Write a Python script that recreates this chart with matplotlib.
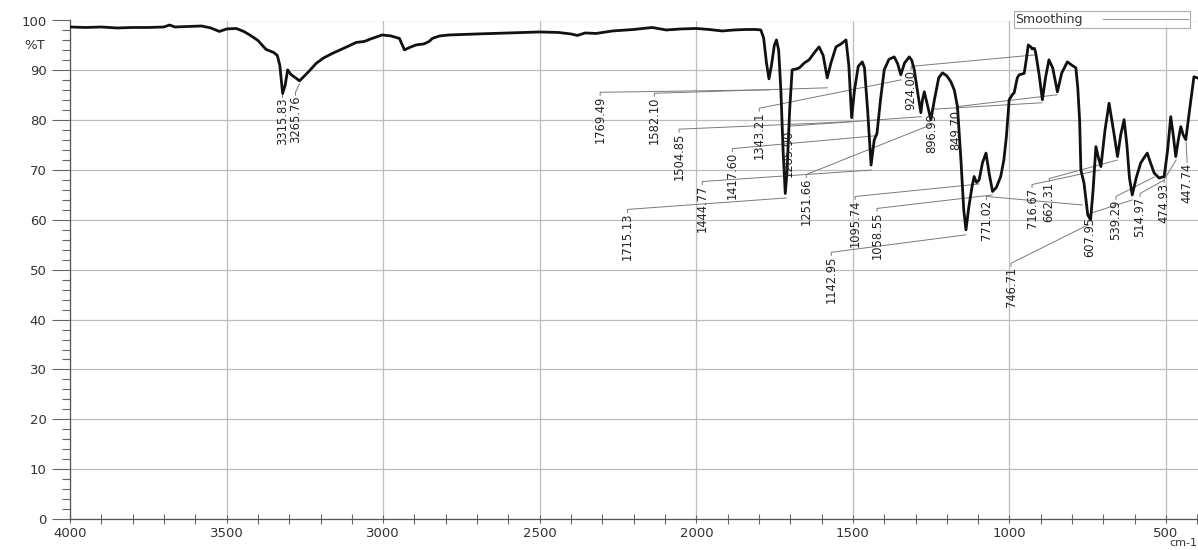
import matplotlib
matplotlib.use("Agg")
import matplotlib.pyplot as plt
from matplotlib.lines import Line2D
from matplotlib.ticker import MultipleLocator, FixedLocator

# ---------------- data ----------------
wavenumber = [4000, 3950, 3900, 3850, 3800, 3750, 3700, 3682, 3665, 3620, 3580, 3550, 3523, 3500,
              3469, 3445, 3426, 3400, 3374, 3350, 3338, 3330, 3321, 3313, 3305, 3295, 3267, 3240,
              3214, 3190, 3162, 3120, 3086, 3060, 3040, 3003, 2975, 2948, 2932, 2915, 2895, 2870,
              2853, 2843, 2820, 2789, 2700, 2600, 2500, 2440, 2400, 2380, 2355, 2320, 2268, 2200,
              2141, 2096, 2050, 2000, 1960, 1917, 1880, 1841, 1810, 1794, 1785, 1776, 1768, 1760,
              1751, 1744, 1737, 1730, 1723, 1716, 1710, 1702, 1694, 1680, 1671, 1655, 1640, 1620,
              1608, 1595, 1582, 1570, 1554, 1538, 1522, 1513, 1504, 1495, 1483, 1470, 1463, 1453,
              1442, 1432, 1423, 1412, 1400, 1385, 1368, 1357, 1347, 1335, 1320, 1312, 1304, 1293,
              1283, 1278, 1272, 1262, 1251, 1240, 1226, 1214, 1200, 1187, 1176, 1166, 1155, 1146,
              1139, 1130, 1120, 1113, 1105, 1097, 1086, 1075, 1064, 1054, 1042, 1028, 1018, 1010,
              1001, 990, 985, 975, 969, 953, 945, 940, 930, 928, 920, 916, 905, 895, 885, 874, 862,
              847, 833, 815, 800, 788, 782, 776, 772, 762, 750, 741, 733, 724, 716, 708, 695, 682,
              668, 655, 645, 634, 625, 617, 608, 595, 581, 570, 560, 550, 538, 522, 506, 495, 485,
              477, 469, 461, 453, 445, 437, 425, 411, 400]
transmittance = [98.7, 98.6, 98.7, 98.5, 98.6, 98.6, 98.7, 99.1, 98.7, 98.8, 98.9, 98.5, 97.8, 98.3,
                 98.4, 97.8, 97.1, 96.0, 94.2, 93.6, 93.0, 91.0, 85.4, 87.0, 90.1, 89.2, 87.9, 89.6,
                 91.4, 92.5, 93.4, 94.6, 95.6, 95.8, 96.3, 97.1, 96.9, 96.4, 94.1, 94.6, 95.1, 95.3,
                 95.8, 96.4, 96.9, 97.1, 97.3, 97.5, 97.7, 97.6, 97.3, 97.0, 97.5, 97.4, 97.9, 98.2,
                 98.6, 98.1, 98.3, 98.4, 98.2, 97.9, 98.1, 98.2, 98.2, 98.1, 96.5, 91.5, 88.3, 91.0,
                 95.0, 96.1, 94.0, 86.0, 74.0, 65.3, 70.0, 82.0, 90.1, 90.3, 90.5, 91.5, 92.1, 93.8,
                 94.7, 93.0, 88.5, 91.5, 94.7, 95.3, 96.1, 91.0, 80.5, 86.0, 90.8, 91.7, 90.5, 82.0,
                 71.0, 76.0, 77.4, 84.0, 90.1, 92.2, 92.7, 91.3, 89.1, 91.5, 92.7, 92.0, 90.1, 85.5,
                 81.5, 84.0, 85.7, 83.0, 80.1, 84.0, 88.5, 89.5, 88.9, 87.7, 86.0, 82.7, 72.0, 62.0,
                 58.0, 62.5, 66.5, 68.7, 67.5, 68.0, 71.5, 73.4, 69.0, 65.7, 66.5, 68.7, 72.0, 76.6,
                 84.1, 85.2, 85.5, 88.5, 89.1, 89.4, 92.7, 95.1, 94.6, 94.3, 94.4, 93.4, 89.0, 84.1,
                 88.5, 92.1, 90.5, 85.7, 89.5, 91.7, 91.0, 90.5, 86.6, 80.0, 70.0, 67.4, 61.0, 60.0,
                 66.0, 74.7, 72.5, 70.7, 78.0, 83.4, 78.0, 72.7, 77.0, 80.1, 75.0, 68.5, 65.0, 68.5,
                 71.4, 72.5, 73.4, 71.5, 69.4, 68.4, 68.7, 74.0, 80.7, 77.0, 72.7, 76.0, 78.7, 77.0,
                 76.1, 82.0, 88.7, 88.5]

# peak labels: text, label x (cm-1), label top (%T), leader target x, leader target %T
peak_labels = ["3315.83", "3265.76", "1769.49", "1582.10", "1504.85", "1444.77", "1417.60",
               "1343.21", "1285.90", "1251.66", "1715.13", "1095.74", "1058.55", "1142.95",
               "924.00", "896.99", "849.70", "771.02", "746.71", "716.67", "662.31", "607.95",
               "539.29", "514.97", "474.93", "447.74"]
label_x = [3322, 3280, 2307, 2134, 2055, 1981, 1885, 1799, 1705, 1649, 2220, 1493, 1423, 1569,
           1314, 1247, 1170, 1074, 995, 928, 873, 743, 660, 583, 506, 433]
label_top = [84.5, 84.9, 84.9, 84.7, 77.5, 67.0, 73.6, 81.7, 78.1, 68.4, 61.4, 64.0, 61.6, 52.8,
             90.1, 81.5, 82.0, 64.0, 50.6, 66.4, 67.6, 60.6, 64.0, 64.6, 67.4, 71.4]
target_x = [3321, 3267, 1767, 1582, 1505, 1441, 1422, 1346, 1282, 1250, 1713, 1097, 1055, 1140,
            918, 896, 848, 768, 749, 711, 656, 608, 538, 506, 468, 436]
target_t = [85.2, 87.3, 86.1, 86.5, 79.7, 70.0, 76.9, 88.1, 80.7, 79.1, 64.4, 67.2, 65.0, 57.0,
            93.1, 83.5, 85.1, 63.0, 59.0, 70.0, 72.0, 64.0, 68.6, 68.0, 72.0, 75.6]

x_major = [4000, 3500, 3000, 2500, 2000, 1500, 1000, 500]
y_major = [0, 10, 20, 30, 40, 50, 60, 70, 80, 90, 100]

# ---------------- figure ----------------
W, H = 1198, 550
fig = plt.figure(figsize=(W / 100, H / 100), dpi=100)
ax = fig.add_axes([70 / W, 31 / H, (W - 70) / W, (519 - 20.5) / H])

ax.set_xlim(4000, 398)
ax.set_ylim(0, 100)

ax.xaxis.set_major_locator(FixedLocator(x_major))
ax.xaxis.set_minor_locator(MultipleLocator(100))
ax.yaxis.set_major_locator(FixedLocator(y_major))
ax.yaxis.set_minor_locator(MultipleLocator(2))
ax.set_xticklabels([str(v) for v in x_major])
ax.set_yticklabels([str(v) for v in y_major])

ax.grid(True, which="major", color="#bdbdbd", linewidth=0.9)
ax.set_axisbelow(True)
for s in ("top", "right"):
    ax.spines[s].set_visible(False)
for s in ("left", "bottom"):
    ax.spines[s].set_color("#555555")
    ax.spines[s].set_linewidth(0.9)

ax.tick_params(axis="y", which="major", length=13, width=0.8, color="#666666",
               labelsize=9.5, pad=4, labelcolor="#333333")
ax.tick_params(axis="y", which="minor", length=6, width=0.8, color="#666666")
ax.tick_params(axis="x", which="major", length=6, width=0.8, color="#666666", direction="inout",
               labelsize=9.5, pad=3, labelcolor="#333333")
ax.tick_params(axis="x", which="minor", length=7, width=0.8, color="#666666", direction="inout")

# %T label
ax.text(-0.022, 95, "%T", transform=ax.get_yaxis_transform(), ha="right", va="center",
        fontsize=9.5, color="#333333")
fig.text(1183 / W, 1 - 543.5 / H, "cm-1", ha="center", va="center", fontsize=8, color="#333333")

# spectrum
ax.plot(wavenumber, transmittance, color="#111111", linewidth=2.0, solid_joinstyle="round", zorder=3)

# peak labels with leader lines
for txt, lx, lt, tx, tt in zip(peak_labels, label_x, label_top, target_x, target_t):
    ax.plot([lx, lx, tx], [lt + 0.1, lt + 0.7, tt], color="#7a7a7a", linewidth=0.7, zorder=2)
    ax.text(lx, lt, txt, rotation=90, ha="center", va="top", fontsize=8.3,
            color="#222222", zorder=4)

# legend box
handle = Line2D([], [], color="#9a9a9a", linewidth=0.8)
leg = ax.legend([handle], ["Smoothing"], loc="upper right", markerfirst=False,
                bbox_to_anchor=(1190 / W, 1 - 11 / H), bbox_transform=fig.transFigure,
                frameon=True, fancybox=False, fontsize=9, borderpad=0.15,
                handlelength=6.8, handletextpad=1.6, borderaxespad=0)
leg.get_frame().set_edgecolor("#9a9a9a")
leg.get_frame().set_linewidth(0.8)
for t in leg.get_texts():
    t.set_color("#333333")

fig.savefig("out.png", dpi=100)
